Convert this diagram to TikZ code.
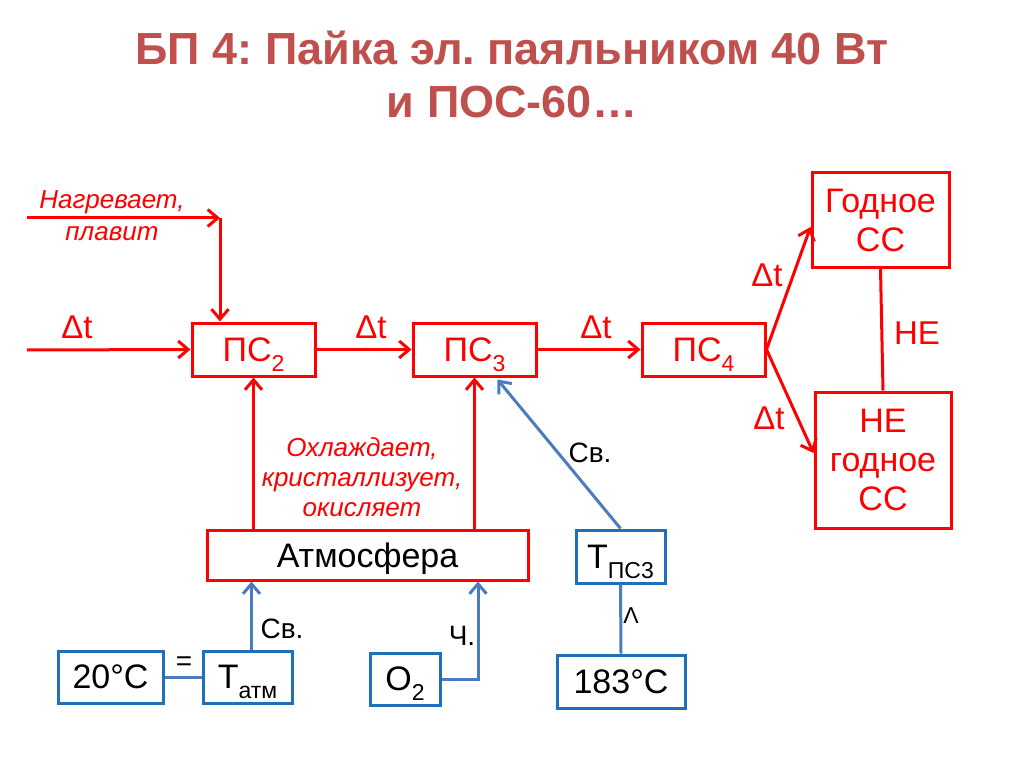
\documentclass[tikz,border=0pt]{standalone}
\usepackage{fontspec}
\setmainfont{Liberation Sans}
\usetikzlibrary{arrows.meta,calc}
\frenchspacing
\definecolor{titlered}{RGB}{192,80,77}
\definecolor{boxred}{RGB}{255,0,0}
\definecolor{boxblue}{RGB}{31,112,185}
\definecolor{lineblue}{RGB}{75,125,190}
\newcommand\fs[1]{\fontsize{#1}{#1}\selectfont}
\newcommand\lowsub[1]{\raisebox{-0.3em}[0pt][0pt]{\fontsize{23}{23}\selectfont #1}}
\tikzset{
  redbox/.style={draw=boxred, line width=3pt, text=boxred, align=center, inner sep=0pt, font=\fs{34}},
  bluebox/.style={draw=boxblue, line width=3pt, text=black, align=center, inner sep=0pt, font=\fs{34}},
  redarr/.style={draw=boxred, line width=3pt, -{Straight Barb[length=10pt,width=17pt]}},
  redline/.style={draw=boxred, line width=3pt},
  bluearr/.style={draw=lineblue, line width=3pt, -{Straight Barb[length=10pt,width=17pt]}},
  blueline/.style={draw=lineblue, line width=3pt},
  redlbl/.style={text=boxred, font=\fs{33}, inner sep=0pt},
  italbl/.style={text=boxred, font=\fs{26}\itshape, align=center, inner sep=0pt},
  blacklbl/.style={text=black, font=\fs{28}, inner sep=0pt},
  titletext/.style={text=titlered, font=\fs{45}\bfseries, inner sep=0pt, anchor=base}
}
\begin{document}
\begin{tikzpicture}[x=1pt,y=-1pt]
\useasboundingbox[fill=white] (0,0) rectangle (1024,767);
% title
\node[titletext] (title1) at (512,65) {БП 4: Пайка эл. паяльником 40 Вт};
\node[titletext] (title2) at (512,118) {и ПОС-60…};
% red boxes
\node[redbox, minimum width=123pt, minimum height=53pt] (ps2) at (253.5,349.5) {ПС\lowsub{2}};
\node[redbox, minimum width=123pt, minimum height=53pt] (ps3) at (474.5,349.5) {ПС\lowsub{3}};
\node[redbox, minimum width=123pt, minimum height=53pt] (ps4) at (703.5,349.5) {ПС\lowsub{4}};
\node[redbox, minimum width=137pt, minimum height=94pt] (good) at (880.5,220) {Годное\\[5pt]СС};
\node[redbox, minimum width=136pt, minimum height=136pt] (bad) at (883,460) {НЕ\\[5pt]годное\\[5pt]СС};
\node[redbox, text=black, minimum width=321pt, minimum height=50pt, text height=24pt, text depth=0pt] (atm) at (367.5,555) {Атмосфера};
% blue boxes
\node[bluebox, minimum width=105pt, minimum height=52pt] (t20) at (110.5,677) {20°C};
\node[bluebox, minimum width=89pt, minimum height=52pt] (tatm) at (247.5,677) {T\lowsub{атм}};
\node[bluebox, minimum width=70pt, minimum height=52pt] (o2) at (405,679) {O\lowsub{2}};
\node[bluebox, minimum width=89pt, minimum height=53pt] (tps) at (620.5,556.5) {T\lowsub{ПС3}};
\node[bluebox, minimum width=128pt, minimum height=53pt] (t183) at (621,681.5) {183°C};
% inputs
\coordinate (inA) at (27,218);
\coordinate (corner) at (220,218);
\coordinate (inB) at (27,350);
\draw[redarr] (inA) -- (corner);
\draw[redarr] (corner) -- (corner |- ps2.north);
\draw[redarr] (inB) -- (ps2.west);
\node[italbl] (heat) at (112,216) {Нагревает,\\[6pt]плавит};
\node[redlbl] (dt0) at (77,327) {Δt};
% chain
\draw[redarr] (ps2.east) -- (ps3.west);
\node[redlbl] (dt1) at (371,327) {Δt};
\draw[redarr] (ps3.east) -- (ps4.west);
\node[redlbl] (dt2) at (596,327) {Δt};
\draw[redarr] (ps4.east) -- ([yshift=-7pt]good.west);
\draw[redarr] (ps4.east) -- ([yshift=7pt]bad.west);
\node[redlbl] (dt3) at (767,275) {Δt};
\node[redlbl] (dt4) at (769,418) {Δt};
\draw[redline] (good.south) -- (bad.north);
\node[redlbl] (ne) at (917,333) {НЕ};
% atmosphere
\draw[redarr] (atm.north -| ps2.south) -- (ps2.south);
\draw[redarr] (atm.north -| ps3.south) -- (ps3.south);
\node[italbl] (cool) at (362,477) {Охлаждает,\\[4pt]кристаллизует,\\[4pt]окисляет};
% blue links
\draw[blueline] (t20.east) -- (tatm.west);
\node[blacklbl] (eq) at (184,664) {=};
\draw[bluearr] ([xshift=4pt]tatm.north) -- ([xshift=4pt]tatm.north |- atm.south);
\node[blacklbl] (sv1) at (282,629) {Св.};
\draw[bluearr] (o2.east) -| ([xshift=110.5pt]atm.south);
\node[blacklbl] (ch) at (462,636) {Ч.};
\draw[bluearr] (tps.north) -- ([xshift=23pt,yshift=-2pt]ps3.south);
\node[blacklbl] (sv2) at (590,453) {Св.};
\draw[blueline] (tps.south) -- (t183.north);
\node[blacklbl, font=\fs{23}] (caret) at (631,616) {Λ};
\end{tikzpicture}
\end{document}
